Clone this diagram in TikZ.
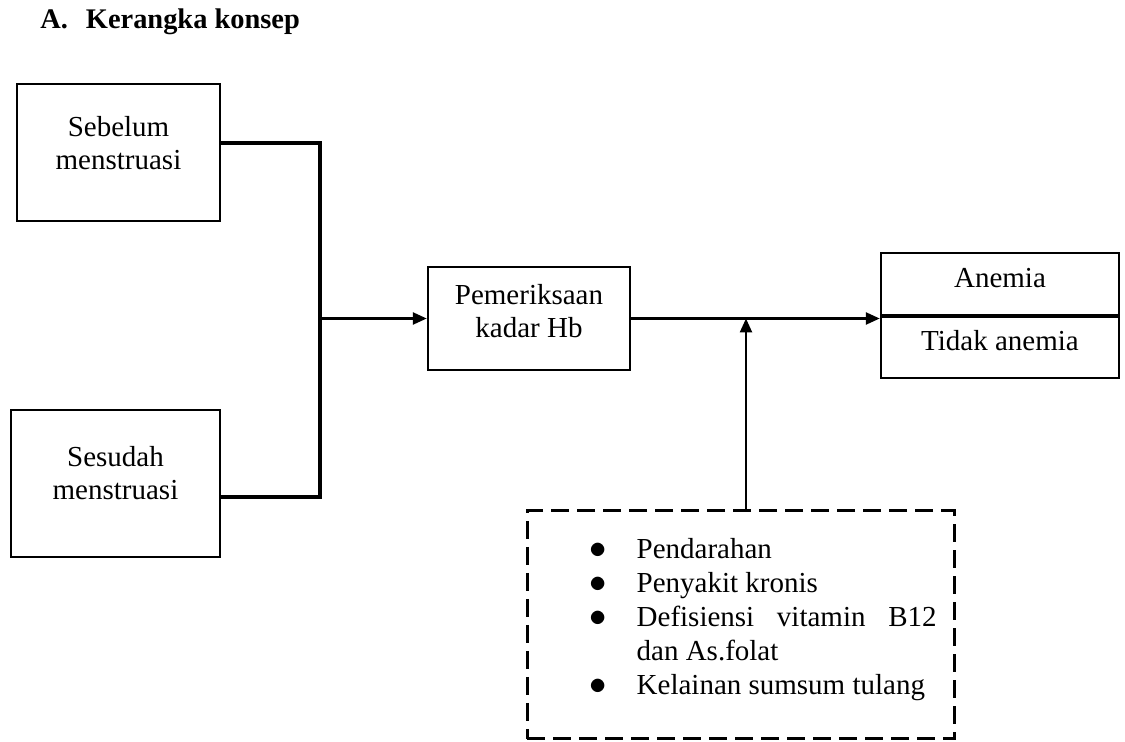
\documentclass[tikz,border=0pt]{standalone}
\usepackage{fontspec}
\setmainfont{Liberation Serif}
\usetikzlibrary{arrows.meta}
\newcommand{\twolines}[2]{\begin{tabular}[t]{@{}c@{}}#1\\#2\end{tabular}}
\newcommand{\butir}{{\fontsize{16}{17}\selectfont$\bullet$}}

\begin{document}
\begin{tikzpicture}
[x=0.5pt,y=-0.5pt,>={Triangle[length=7pt,width=6pt]},font=\fontsize{14.5}{16.5}\selectfont]
  \tikzstyle{box}=[draw=black,line width=1.25pt,inner sep=0pt]
  \tikzstyle{txt}=[anchor=base,inner sep=0pt]
  \tikzstyle{line}=[draw=black,line width=1.25pt]
  \tikzstyle{bus}=[draw=black,line width=1.8pt]

  \useasboundingbox (0,0) rectangle (1125,742);

  \node[anchor=base west,inner sep=0pt,font=\fontsize{14.2}{16}\selectfont\bfseries] (judul) at (40,29) {A.\hspace{9pt}Kerangka konsep};

  % kotak kiri
  \node[box,minimum width=101.5pt,minimum height=68.5pt] (sebelum) at (118.5,152.5) {};
  \node[txt] (sebelumtxt) at (118.5,137) {\twolines{Sebelum}{menstruasi}};
  \node[box,minimum width=104.5pt,minimum height=73.5pt] (sesudah) at (115.5,483.5) {};
  \node[txt] (sesudahtxt) at (115.5,467) {\twolines{Sesudah}{menstruasi}};

  % pemeriksaan
  \node[box,minimum width=101pt,minimum height=51.5pt] (hb) at (529,318.5) {};
  \node[txt] (hbtxt) at (529,305) {\twolines{Pemeriksaan}{kadar Hb}};

  % hasil
  \node[box,minimum width=119pt,minimum height=32pt] (anemia) at (1000,285) {};
  \node[txt] (anemiatxt) at (1000,288) {Anemia};
  \node[box,minimum width=119pt,minimum height=30.5pt] (tidak) at (1000,347.5) {};
  \node[txt] (tidaktxt) at (1000,351) {Tidak anemia};
  \path[bus] (tidak.north west) -- (tidak.north east);

  % faktor lain
  \node[box,dash pattern=on 9pt off 4pt,line width=1.5pt,minimum width=213.5pt,minimum height=114pt] (faktor) at (740.5,625) {};
  \node[anchor=base west,inner sep=0pt,font=\fontsize{14.5}{17}\selectfont] (faktortxt) at (589,559)
    {\begin{tabular}[t]{@{}l@{\hspace{15pt}}l@{}}
      \butir & Pendarahan\\
      \butir & Penyakit kronis\\
      \butir & \makebox[150pt][s]{Defisiensi vitamin B12}\\
             & dan As.folat\\
      \butir & Kelainan sumsum tulang
    \end{tabular}};

  \coordinate (bustop) at (320,143);
  \coordinate (busbot) at (320,497);
  \coordinate (j) at (746,318.5);

  \path[bus] (sebelum.east |- bustop) -- (bustop) -- (busbot) -- (sesudah.east |- busbot);
  \path[line,->] (bustop |- hb.west) -- (hb.west);
  \path[line,->] (hb.east) -- (hb.east -| anemia.west);
  \path[line,->] (faktor.north -| j) -- (j);
\end{tikzpicture}
\end{document}
